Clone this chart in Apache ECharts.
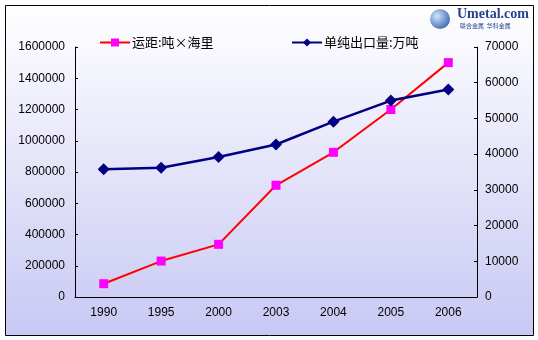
<!DOCTYPE html>
<html><head><meta charset="utf-8">
<script src="https://cdn.jsdelivr.net/npm/echarts@6/dist/echarts.min.js"></script>
<style>html,body{margin:0;padding:0;background:#fff}#c{width:538px;height:340px}</style>
</head><body><div id="c"></div>
<script>
const categories = ['1990','1995','2000','2003','2004','2005','2006'];
const distance = [85000, 230000, 337000, 715000, 926000, 1200000, 1500000];
const exports = [35800, 36200, 39200, 42700, 49100, 55000, 58100];
const nameDistance = '运距:吨×海里';
const nameExports = '单纯出口量:万吨';

const chart = echarts.init(document.getElementById('c'));
const axisFont = {fontFamily:'Liberation Sans, Arial, sans-serif', fontSize:12, color:'#000', formatter:v=>String(v)};
chart.setOption({
  animation:false,
  graphic:[
    {type:'rect', left:5, top:5, shape:{width:528,height:330}, z:-10,
     style:{fill:new echarts.graphic.LinearGradient(0,0,0,1,[{offset:0,color:'#ffffff'},{offset:0.35,color:'#ececfb'},{offset:1,color:'#c8c8f4'}]), stroke:'#000', lineWidth:1}},
    {type:'circle', left:430, top:9, shape:{r:10}, style:{fill:new echarts.graphic.RadialGradient(0.35,0.35,0.8,[{offset:0,color:'#d0e4ff'},{offset:1,color:'#2c5ca8'}])}},
    {type:'text', left:457, top:7, style:{text:'Umetal.com', font:'bold 14px Liberation Serif, serif', fill:'#2a3f8f'}},
    {type:'text', left:460, top:23, style:{text:'联合金属  华科金属', font:'6px Noto Sans CJK SC', fill:'#2a3f8f'}}
  ],
  grid:{left:75, right:61, top:47, bottom:43},
  legend:[
    {data:[nameDistance], left:94, top:31, itemWidth:30, itemHeight:10, itemGap:2,
     textStyle:{fontFamily:'Noto Sans CJK SC', fontSize:13, color:'#000', padding:[0,0,0,-3]}},
    {data:[nameExports], left:286, top:31, itemWidth:30, itemHeight:10, itemGap:2,
     textStyle:{fontFamily:'Noto Sans CJK SC', fontSize:13, color:'#000', padding:[0,0,0,-3]}}
  ],
  xAxis:{type:'category', data:categories, boundaryGap:true,
    axisLine:{lineStyle:{color:'#000',width:1}},
    axisTick:{inside:true, length:3, lineStyle:{color:'#000'}},
    axisLabel:Object.assign({}, axisFont, {margin:10})},
  yAxis:[
    {type:'value', min:0, max:1600000, interval:200000, position:'left',
     axisLine:{show:true, lineStyle:{color:'#000'}},
     axisTick:{show:true, inside:true, length:3, lineStyle:{color:'#000'}},
     splitLine:{show:false},
     axisLabel:Object.assign({}, axisFont, {margin:10})},
    {type:'value', min:0, max:70000, interval:10000, position:'right',
     axisLine:{show:true, lineStyle:{color:'#000'}},
     axisTick:{show:true, inside:true, length:3, lineStyle:{color:'#000'}},
     splitLine:{show:false},
     axisLabel:Object.assign({}, axisFont, {margin:8})}
  ],
  series:[
    {name:nameDistance, type:'line', yAxisIndex:0, data:distance,
     symbol:'rect', symbolSize:9, lineStyle:{color:'#ff0000', width:2},
     itemStyle:{color:'#ff00ff', borderWidth:0}},
    {name:nameExports, type:'line', yAxisIndex:1, data:exports,
     symbol:'diamond', symbolSize:12, lineStyle:{color:'#000080', width:2.5},
     itemStyle:{color:'#000080', borderWidth:0}}
  ]
});
</script></body></html>
